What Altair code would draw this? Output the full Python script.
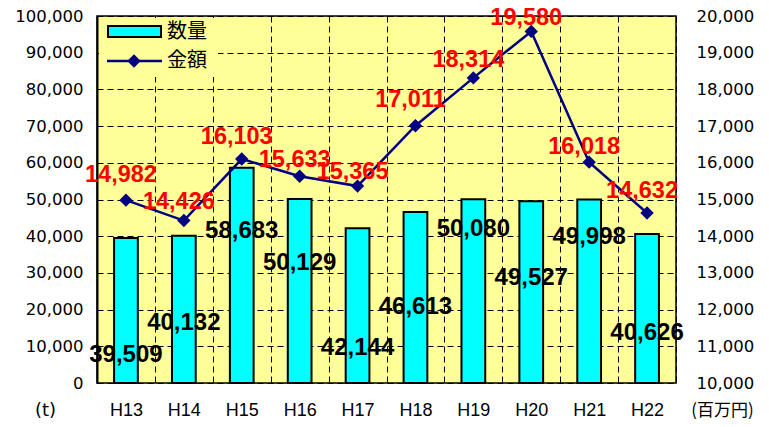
import altair as alt
import pandas as pd

# ---- data ----
years = ["H13", "H14", "H15", "H16", "H17", "H18", "H19", "H20", "H21", "H22"]
quantity = [39509, 40132, 58683, 50129, 42144, 46613, 50080, 49527, 49998, 40626]   # 数量 (t)
amount = [14982, 14426, 16103, 15633, 15365, 17011, 18314, 19580, 16018, 14632]     # 金額 (百万円)
# where the data labels sit in the original, in each axis' own units
quantity_label_at = [7600, 16300, 41400, 32700, 9500, 20700, 42000, 28600, 39800, 13600]
amount_label_at = [15668, 14932, 16703, 16076, 15749, 17711, 18801, 19950, 16431, 15232]

left_ticks = list(range(0, 100001, 10000))
right_ticks = list(range(10000, 20001, 1000))

df = pd.DataFrame({
    "year": years,
    "quantity": quantity,
    "amount": amount,
    "q_at": quantity_label_at,
    "a_at": amount_label_at,
})
df["q_label"] = [f"{v:,}" for v in quantity]
df["a_label"] = [f"{v:,}" for v in amount]

CYAN = "#00FFFF"
NAVY = "#000080"
RED = "#FF0000"
BG = "#FFFF99"
NUM_FONT = "DejaVu Sans"
LBL_FONT = "Liberation Sans Narrow, Liberation Sans, Arial"
CJK = "Noto Sans CJK JP"

x_axis = alt.Axis(title=None, labelAngle=0, grid=True, tickBand="extent",
                  gridDash=[6, 4], gridColor="black", gridWidth=1, gridOpacity=1,
                  ticks=False, domain=False, labelFont="Liberation Sans",
                  labelFontSize=18, labelColor="black", labelPadding=18)
x_scale = alt.Scale(paddingInner=0, paddingOuter=0)


def xe():
    return alt.X("year:N", sort=years, scale=x_scale, axis=x_axis)


left_scale = alt.Scale(domain=[0, 100000], nice=False, zero=True)
right_scale = alt.Scale(domain=[10000, 20000], nice=False, zero=False)

left_axis = alt.Axis(values=left_ticks, format=",d", grid=True, gridDash=[6, 4],
                     gridColor="black", gridWidth=1, gridOpacity=1, ticks=False,
                     domain=True, domainColor="black", domainWidth=2,
                     labelFont=NUM_FONT, labelFontSize=16.5, labelColor="black",
                     labelPadding=14, title="(t)", titleAngle=0, titleX=-52,
                     titleY=394, titleAlign="center", titleBaseline="middle",
                     titleFont=NUM_FONT, titleFontSize=18, titleFontWeight="normal",
                     titleColor="black")
right_axis = alt.Axis(orient="right", values=right_ticks, format=",d", grid=False,
                      ticks=False, domain=False, labelFont=NUM_FONT,
                      labelFontSize=16.5, labelColor="black", labelPadding=20,
                      title="(百万円)", titleAngle=0, titleX=46, titleY=394,
                      titleAlign="center", titleBaseline="middle", titleFont=CJK,
                      titleFontSize=17, titleFontWeight="normal",
                      titleColor="black")

bars = alt.Chart(df).mark_bar(
    width=alt.RelativeBandSize(0.41), fill=CYAN, stroke="black", strokeWidth=2
).encode(
    x=xe(),
    y=alt.Y("quantity:Q", scale=left_scale, axis=left_axis),
)

bar_labels = alt.Chart(df).mark_text(
    font=LBL_FONT, fontSize=24, fontWeight="bold", color="black", baseline="middle"
).encode(
    x=xe(),
    y=alt.Y("q_at:Q", scale=left_scale, axis=left_axis),
    text="q_label:N",
)

left_group = alt.layer(bars, bar_labels)

line = alt.Chart(df).mark_line(color=NAVY, strokeWidth=2.5).encode(
    x=xe(), y=alt.Y("amount:Q", scale=right_scale, axis=right_axis))
points = alt.Chart(df).mark_point(shape="diamond", filled=True, size=180, color=NAVY,
                                  opacity=1).encode(
    x=xe(), y=alt.Y("amount:Q", scale=right_scale, axis=right_axis))
amount_labels = alt.Chart(df).mark_text(
    font=LBL_FONT, fontSize=23.5, fontWeight="bold", color=RED, baseline="middle",
    dx=-5
).encode(
    x=xe(),
    y=alt.Y("a_at:Q", scale=right_scale, axis=right_axis),
    text="a_label:N",
)

right_group = alt.layer(line, points, amount_labels)

# ---- legend (drawn in the top-left corner of the plot, as in the original) ----
one = alt.Data(values=[{"k": 1}])
leg_bg = alt.Chart(one).mark_rect(fill=BG).encode(
    x=alt.value(2), x2=alt.value(121), y=alt.value(2), y2=alt.value(61))
leg_bar = alt.Chart(one).mark_rect(fill=CYAN, stroke="black", strokeWidth=2).encode(
    x=alt.value(11), x2=alt.value(64), y=alt.value(10), y2=alt.value(21))
leg_line = alt.Chart(one).mark_rule(color=NAVY, strokeWidth=2.5).encode(
    x=alt.value(10), x2=alt.value(65), y=alt.value(45))
leg_pt = alt.Chart(one).mark_point(shape="diamond", filled=True, size=180, color=NAVY,
                                   opacity=1).encode(x=alt.value(37), y=alt.value(45))
leg_t1 = alt.Chart(one).mark_text(font=CJK, fontSize=20, align="left", baseline="middle",
                                  color="black", text="数量").encode(
    x=alt.value(70), y=alt.value(16))
leg_t2 = alt.Chart(one).mark_text(font=CJK, fontSize=20, align="left", baseline="middle",
                                  color="black", text="金額").encode(
    x=alt.value(70), y=alt.value(45))
legend = alt.layer(leg_bg, leg_bar, leg_line, leg_pt, leg_t1, leg_t2)

chart = alt.layer(left_group, right_group, legend).resolve_scale(
    y="independent"
).properties(
    width=579, height=367,
    padding={"left": 89, "top": 8, "right": 85, "bottom": 36},
    autosize=alt.AutoSizeParams(type="none"),
    background="white",
).configure_view(fill=BG, stroke="black", strokeWidth=1.5)

chart.save("out.html", embed_options={"renderer": "svg", "actions": False})
